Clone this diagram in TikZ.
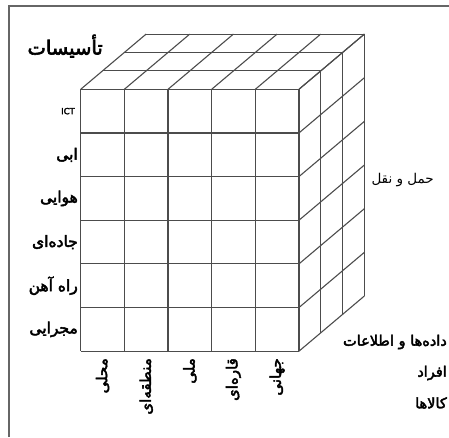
\documentclass[tikz,border=0pt]{standalone}
\usepackage{fontspec}
\newfontfamily\farsi[Script=Arabic]{DejaVu Sans}
\newfontfamily\farsib[Script=Arabic,FakeBold=3]{DejaVu Sans}
\TeXXeTstate=1

\newcommand*{\fx}{80.7}
\newcommand*{\fy}{89.3}
\newcommand*{\cw}{43.65}
\newcommand*{\dx}{21.8}
\newcommand*{\dy}{-18.4}

\begin{document}
\begin{tikzpicture}
[
	gridln/.style={draw=black!70,line width=1.1pt},
	frameln/.style={draw=black!60,line width=1.3pt},
	rowlbl/.style={anchor=east,inner sep=0pt,font=\farsib\fontsize{15.5}{17}\selectfont},
	collbl/.style={anchor=east,rotate=90,inner sep=0pt,font=\farsib\fontsize{15}{17}\selectfont},
	sidelbl/.style={anchor=east,inner sep=0pt,font=\farsib\fontsize{14.5}{16}\selectfont},
	x=1pt,y=-1pt
]

	\useasboundingbox (0,0) rectangle (449,437);

	% frame
	\draw[frameln] (9,437) -- (9,6) -- (449,6);

	% front face
	\foreach \i in {0,...,5}
		\draw[gridln] (\fx+\i*\cw,\fy) -- (\fx+\i*\cw,\fy+6*\cw);
	\foreach \j in {0,...,6}
		\draw[gridln] (\fx,\fy+\j*\cw) -- (\fx+5*\cw,\fy+\j*\cw);

	% top face
	\foreach \i in {0,...,5}
		\draw[gridln] (\fx+\i*\cw,\fy) -- (\fx+\i*\cw+3*\dx,\fy+3*\dy);
	\foreach \k in {1,2,3}
		\draw[gridln] (\fx+\k*\dx,\fy+\k*\dy) -- (\fx+5*\cw+\k*\dx,\fy+\k*\dy);

	% right face
	\foreach \j in {0,...,6}
		\draw[gridln] (\fx+5*\cw,\fy+\j*\cw) -- (\fx+5*\cw+3*\dx,\fy+\j*\cw+3*\dy);
	\foreach \k in {1,2,3}
		\draw[gridln] (\fx+5*\cw+\k*\dx,\fy+\k*\dy) -- (\fx+5*\cw+\k*\dx,\fy+6*\cw+\k*\dy);

	% labels
	\node[anchor=east,inner sep=0pt,font=\farsib\fontsize{19.5}{21}\selectfont] (title) at (103,46) {\beginR تأسیسات\endR};

	\node[rowlbl,font=\farsib\fontsize{8.5}{10}\selectfont] (ict) at (75,\fy+0.5*\cw) {ICT};
	\foreach \t [count=\j] in {ابی,هوایی,جاده‌ای,راه آهن,مجرایی}
		\node[rowlbl] (row\j) at (78,\fy+\j*\cw+0.5*\cw) {\beginR\t\endR};

	\foreach \t [count=\i from 0] in {محلی,منطقه‌ای,ملی,قاره‌ای,جهانی}
		\node[collbl] (col\i) at (\fx+\i*\cw+0.5*\cw,358) {\beginR\t\endR};

	\node[anchor=east,inner sep=0pt,font=\farsi\fontsize{13.5}{15}\selectfont] (mode) at (434,180) {\beginR حمل و نقل\endR};
	\node[sidelbl] (data) at (447,342) {\beginR داده‌ها و اطلاعات\endR};
	\node[sidelbl] (people) at (447,373) {\beginR افراد\endR};
	\node[sidelbl] (goods) at (447,403) {\beginR کالاها\endR};

\end{tikzpicture}
\end{document}
